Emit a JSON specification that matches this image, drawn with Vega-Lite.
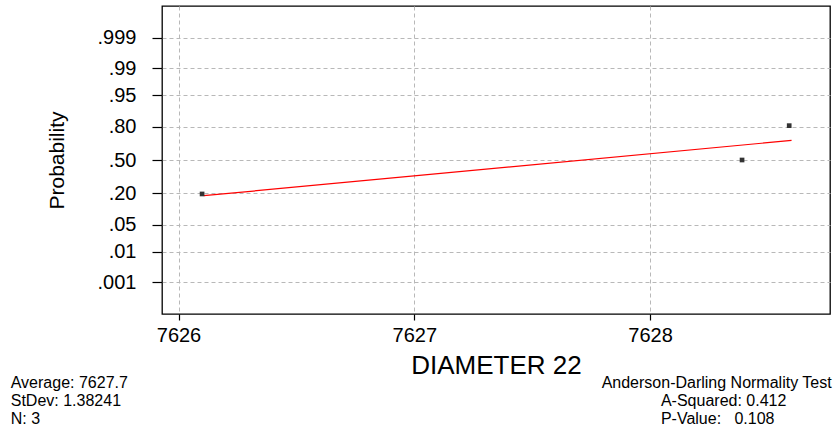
{
  "$schema": "https://vega.github.io/schema/vega-lite/v6.json",
  "autosize": "none",
  "padding": {"left": 162, "top": 6, "right": 5, "bottom": 115},
  "width": 668,
  "height": 308,
  "background": "white",
  "datasets": {
    "points": [
      {"diameter": 7626.10, "z": -0.86},
      {"diameter": 7628.39, "z": 0.0},
      {"diameter": 7628.59, "z": 0.87}
    ],
    "fit": [
      {"diameter": 7626.107, "z": -0.904},
      {"diameter": 7628.6, "z": 0.496}
    ],
    "notesLeft": [{"note": "Average: 7627.7\nStDev: 1.38241\nN: 3"}],
    "notesRight1": [{"note": "Anderson-Darling Normality Test"}],
    "notesRight2": [{"note": "A-Squared: 0.412\nP-Value:\u00a0\u00a0\u00a00.108"}]
  },
  "layer": [
    {
      "data": {"name": "fit"},
      "mark": {"type": "line", "color": "#ff0000", "strokeWidth": 1.2},
      "encoding": {
        "x": {
          "field": "diameter", "type": "quantitative",
          "scale": {"domain": [7625.93, 7628.763], "nice": false, "zero": false},
          "axis": {
            "values": [7626, 7627, 7628],
            "tickCount": 20,
            "format": "d",
            "title": "DIAMETER 22",
            "titleFontSize": 26,
            "titleFontWeight": "normal",
            "titlePadding": 7,
            "labelFontSize": 20,
            "labelPadding": 5,
            "labelOverlap": false,
            "tickSize": 6
          }
        },
        "y": {
          "field": "z", "type": "quantitative",
          "scale": {"domain": [-3.9, 3.9], "nice": false, "zero": false},
          "axis": {
            "values": [-3.0902, -2.3263, -1.6449, -0.8416, 0, 0.8416, 1.6449, 2.3263, 3.0902],
            "tickCount": 20,
            "labelExpr": "datum.value > 3 ? '.999' : datum.value > 2 ? '.99' : datum.value > 1.5 ? '.95' : datum.value > 0.5 ? '.80' : datum.value > -0.5 ? '.50' : datum.value > -1 ? '.20' : datum.value > -2 ? '.05' : datum.value > -3 ? '.01' : '.001'",
            "title": "Probability",
            "titleFontSize": 21,
            "titleFontWeight": "normal",
            "titlePadding": 30,
            "labelFontSize": 20,
            "labelPadding": 16,
            "labelOverlap": false,
            "tickSize": 10
          }
        }
      }
    },
    {
      "data": {"name": "points"},
      "mark": {"type": "point", "shape": "square", "filled": true, "size": 22, "color": "#333333", "opacity": 1},
      "encoding": {
        "x": {"field": "diameter", "type": "quantitative"},
        "y": {"field": "z", "type": "quantitative"}
      }
    },
    {
      "data": {"name": "notesLeft"},
      "mark": {"type": "text", "align": "left", "baseline": "alphabetic", "fontSize": 16, "lineHeight": 18, "lineBreak": "\n", "color": "#000"},
      "encoding": {
        "x": {"datum": 7625.2885, "type": "quantitative"},
        "y": {"datum": -5.774, "type": "quantitative"},
        "text": {"field": "note"}
      }
    },
    {
      "data": {"name": "notesRight1"},
      "mark": {"type": "text", "align": "right", "baseline": "alphabetic", "fontSize": 16, "color": "#000"},
      "encoding": {
        "x": {"datum": 7628.77, "type": "quantitative"},
        "y": {"datum": -5.774, "type": "quantitative"},
        "text": {"field": "note"}
      }
    },
    {
      "data": {"name": "notesRight2"},
      "mark": {"type": "text", "align": "left", "baseline": "alphabetic", "fontSize": 16, "lineHeight": 18, "lineBreak": "\n", "color": "#000"},
      "encoding": {
        "x": {"datum": 7628.046, "type": "quantitative"},
        "y": {"datum": -6.23, "type": "quantitative"},
        "text": {"field": "note"}
      }
    }
  ],
  "config": {
    "font": "Liberation Sans",
    "view": {"stroke": "#000000", "strokeWidth": 1.3},
    "axis": {
      "domain": false,
      "grid": true,
      "gridColor": "#b8b8b8",
      "gridDash": [4, 3],
      "gridWidth": 1,
      "tickColor": "#000000",
      "tickWidth": 1.2,
      "labelColor": "#000000",
      "titleColor": "#000000",
      "labelFont": "Liberation Sans",
      "titleFont": "Liberation Sans"
    }
  }
}
